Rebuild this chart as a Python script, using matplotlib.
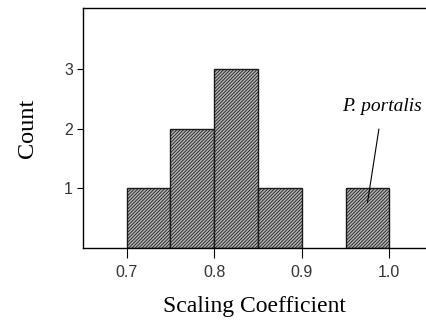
#!/usr/bin/env python3
"""Histogram of scaling coefficients with P. portalis annotated."""

import matplotlib

matplotlib.use("Agg")

import matplotlib.pyplot as plt
import numpy as np

bin_edges = [0.70, 0.75, 0.80, 0.85, 0.90, 0.95, 1.00]
counts = [1, 2, 3, 1, 0, 1]
x_ticks = [0.7, 0.8, 0.9, 1.0]
x_tick_labels = ["0.7", "0.8", "0.9", "1.0"]
y_ticks = [1, 2, 3]
label_species = "P. portalis"

plt.rcParams["hatch.linewidth"] = 0.6

fig = plt.figure(figsize=(4.27, 3.22), dpi=100)
ax = fig.add_axes([0.194, 0.230, 0.806, 0.745])

edges = np.asarray(bin_edges)
widths = np.diff(edges)
for left, w, c in zip(edges[:-1], widths, counts):
    if c == 0:
        continue
    ax.bar(left, c, width=w, align="edge", facecolor="#b4b4b4",
           edgecolor="#1a1a1a", hatch="//////////", linewidth=1.0)

ax.set_xlim(0.65, 1.043)
ax.set_ylim(0, 4.03)
ax.set_xticks(x_ticks)
ax.set_xticklabels(x_tick_labels, family="Liberation Sans", fontsize=11.5, color="#333333")
ax.set_yticks(y_ticks)
ax.set_yticklabels([str(v) for v in y_ticks], family="Liberation Sans", fontsize=11.5, color="#333333")
ax.tick_params(axis="x", direction="out", length=7, width=0.8, pad=5)
ax.tick_params(axis="y", direction="out", length=4, width=0.8, pad=3)
ax.spines["right"].set_visible(False)
for side in ("left", "top", "bottom"):
    ax.spines[side].set_linewidth(1.0)

ax.set_xlabel("Scaling Coefficient", family="Liberation Serif", fontsize=17, labelpad=12)
ax.set_ylabel("Count", family="Liberation Serif", fontsize=17.5, labelpad=19)

ax.annotate(label_species, xy=(0.975, 0.76), xytext=(0.992, 2.37),
            family="Liberation Serif", style="italic", fontsize=14,
            ha="center", va="center",
            arrowprops=dict(arrowstyle="-", color="black", lw=0.8,
                            shrinkA=8, shrinkB=0))

fig.savefig("out.png", dpi=100, facecolor="white")
